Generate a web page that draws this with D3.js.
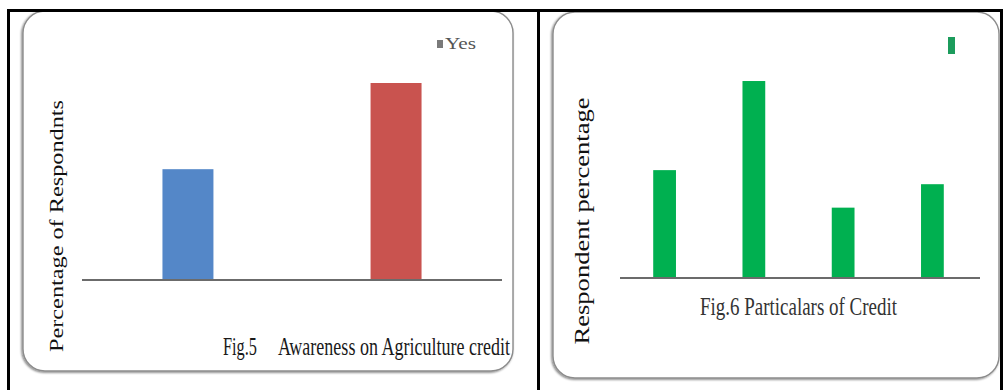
<!DOCTYPE html>
<html>
<head>
<meta charset="utf-8">
<script src="https://cdn.jsdelivr.net/npm/d3@7"></script>
<style>
  html, body { margin: 0; padding: 0; background: #fff; }
  svg { display: block; }
</style>
</head>
<body>
<svg id="chart" width="1003" height="390"></svg>
<script>
// Fig.5 — awareness on agriculture credit (percent of respondents)
const awarenessCategories = ["No", "Yes"];
const awarenessValues = [36, 64];
const awarenessColors = ["#5487c8", "#c9534f"];
const awarenessLegend = ["Yes"];

// Fig.6 — particulars of credit (percent of respondents)
const creditCategories = ["Crop loan", "Kisan credit card", "Gold loan", "Other"];
const creditValues = [23, 42, 15, 20];
const creditColor = "#00b050";

const svg = d3.select("#chart");
const serif = "'Liberation Serif', 'Times New Roman', serif";

const defs = svg.append("defs");
const shadow = defs.append("filter").attr("id", "panelShadow")
  .attr("x", "-5%").attr("y", "-5%").attr("width", "110%").attr("height", "110%");
shadow.append("feGaussianBlur").attr("in", "SourceAlpha").attr("stdDeviation", 1.2).attr("result", "b");
shadow.append("feOffset").attr("in", "b").attr("dx", -1).attr("dy", 1).attr("result", "o");
shadow.append("feComponentTransfer").attr("in", "o").attr("result", "s")
  .append("feFuncA").attr("type", "linear").attr("slope", 0.5);
const merge = shadow.append("feMerge");
merge.append("feMergeNode").attr("in", "s");
merge.append("feMergeNode").attr("in", "SourceGraphic");

// rounded chart panels
const panels = [
  { x: 23, y: 11, w: 490, h: 360 },
  { x: 553, y: 12, w: 446, h: 366 }
];
svg.selectAll("rect.panel").data(panels).join("rect")
  .attr("class", "panel")
  .attr("x", d => d.x).attr("y", d => d.y)
  .attr("width", d => d.w).attr("height", d => d.h)
  .attr("rx", 22).attr("ry", 22)
  .attr("fill", "#fff")
  .attr("stroke", "#8c8c8c").attr("stroke-width", 1.4)
  .attr("filter", "url(#panelShadow)");

// ---------- Fig.5 ----------
const x5 = d3.scaleBand().domain(awarenessCategories).range([84, 500]).paddingInner(0.755).paddingOuter(0.377);
const y5 = d3.scaleLinear().domain([0, 80]).range([280, 33.75]);

const g5 = svg.append("g");
g5.selectAll("rect.bar").data(awarenessValues).join("rect")
  .attr("class", "bar")
  .attr("x", (d, i) => x5(awarenessCategories[i]))
  .attr("width", x5.bandwidth())
  .attr("y", d => y5(d))
  .attr("height", d => y5(0) - y5(d))
  .attr("fill", (d, i) => awarenessColors[i]);

const ax5 = g5.append("g").attr("transform", `translate(0,${y5(0)})`)
  .call(d3.axisBottom(x5).tickSize(0).tickFormat(""));
ax5.select(".domain").attr("d", "M82,0H502").attr("stroke", "#6b6b6b").attr("stroke-width", 2);

g5.append("text")
  .attr("transform", "translate(63,226) rotate(-90)")
  .attr("text-anchor", "middle")
  .attr("font-family", serif).attr("font-size", 19)
  .attr("textLength", 252).attr("lengthAdjust", "spacingAndGlyphs")
  .attr("fill", "#111")
  .text("Percentage of Respondnts");

g5.append("text")
  .attr("x", 223).attr("y", 355)
  .attr("font-family", serif).attr("font-size", 25)
  .attr("textLength", 34).attr("lengthAdjust", "spacingAndGlyphs")
  .attr("fill", "#1a1a1a")
  .text("Fig.5");
g5.append("text")
  .attr("x", 278).attr("y", 355)
  .attr("font-family", serif).attr("font-size", 25)
  .attr("textLength", 232).attr("lengthAdjust", "spacingAndGlyphs")
  .attr("fill", "#1a1a1a")
  .text("Awareness on Agriculture credit");

const leg5 = g5.append("g").attr("transform", "translate(437,38)");
leg5.selectAll("rect").data(awarenessLegend).join("rect")
  .attr("width", 6).attr("height", 8).attr("y", 2).attr("fill", "#7a7a7a");
leg5.selectAll("text").data(awarenessLegend).join("text")
  .attr("x", 8).attr("y", 11)
  .attr("font-family", serif).attr("font-size", 17)
  .attr("textLength", 31).attr("lengthAdjust", "spacingAndGlyphs")
  .attr("fill", "#555")
  .text(d => d);

// ---------- Fig.6 ----------
const x6 = d3.scaleBand().domain(creditCategories).range([620, 977]).paddingInner(0.745).paddingOuter(0.372);
const y6 = d3.scaleLinear().domain([0, 50]).range([278, 43.5]);

const g6 = svg.append("g");
g6.selectAll("rect.bar").data(creditValues).join("rect")
  .attr("class", "bar")
  .attr("x", (d, i) => x6(creditCategories[i]))
  .attr("width", x6.bandwidth())
  .attr("y", d => y6(d))
  .attr("height", d => y6(0) - y6(d))
  .attr("fill", creditColor);

const ax6 = g6.append("g").attr("transform", `translate(0,${y6(0)})`)
  .call(d3.axisBottom(x6).tickSize(0).tickFormat(""));
ax6.select(".domain").attr("d", "M620,0H980").attr("stroke", "#6b6b6b").attr("stroke-width", 2);

g6.append("text")
  .attr("transform", "translate(588.5,221) rotate(-90)")
  .attr("text-anchor", "middle")
  .attr("font-family", serif).attr("font-size", 20)
  .attr("textLength", 247).attr("lengthAdjust", "spacingAndGlyphs")
  .attr("fill", "#111")
  .text("Respondent percentage");

g6.append("text")
  .attr("x", 700).attr("y", 315)
  .attr("font-family", serif).attr("font-size", 25)
  .attr("textLength", 197).attr("lengthAdjust", "spacingAndGlyphs")
  .attr("fill", "#333")
  .text("Fig.6 Particalars  of Credit");

g6.append("rect")
  .attr("x", 948).attr("y", 37).attr("width", 7).attr("height", 17)
  .attr("fill", "#1c9c5c");

// outer table frame
const frame = [
  [7, 10.5, 1003, 10.5],
  [8.5, 9, 8.5, 390],
  [538.5, 9, 538.5, 390],
  [1001.5, 9, 1001.5, 390]
];
svg.selectAll("line.frame").data(frame).join("line")
  .attr("class", "frame")
  .attr("x1", d => d[0]).attr("y1", d => d[1])
  .attr("x2", d => d[2]).attr("y2", d => d[3])
  .attr("stroke", "#000").attr("stroke-width", 3);
</script>
</body>
</html>
